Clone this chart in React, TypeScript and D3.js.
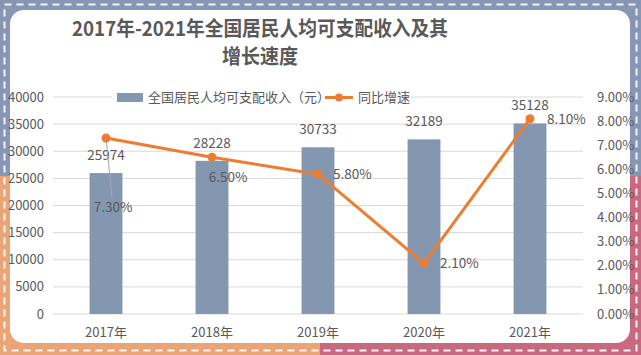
import React from "react";
import * as d3 from "d3";

const years = ["2017年", "2018年", "2019年", "2020年", "2021年"];
const income = [25974, 28228, 30733, 32189, 35128];
const growth = [7.3, 6.5, 5.8, 2.1, 8.1];
const leftTicks = [0, 5000, 10000, 15000, 20000, 25000, 30000, 35000, 40000];
const rightTicks = [0, 1, 2, 3, 4, 5, 6, 7, 8, 9];
const titleLines = ["2017年-2021年全国居民人均可支配收入及其", "增长速度"];
const legendBar = "全国居民人均可支配收入（元）";
const legendLine = "同比增速";

const W = 641;
const H = 355;
const FONT = "'Noto Sans CJK SC', 'Noto Sans', sans-serif";
const TEXT = "#595959";
const BLUE = "#8896b6";
const ORANGE = "#eaa475";
const PINK = "#c9697f";
const BAR = "#8497b0";
const LINE = "#ed7d31";

// per-label offsets for percent labels (dx, dy) relative to point
const pctOffsets: [number, number, string][] = [
  [7, 74, "middle"],
  [16, 25, "middle"],
  [15, 5, "start"],
  [16, 5, "start"],
  [17, 5, "start"],
];
const titleWidths = [376, 76];

export default function App() {
  const left = 53, right = 583, top = 97, bottom = 314;
  const x = d3.scaleBand<string>().domain(years).range([left, right]);
  const yL = d3.scaleLinear().domain([0, 40000]).range([bottom, top]);
  const yR = d3.scaleLinear().domain([0, 9]).range([bottom, top]);
  const bw = x.bandwidth() * 0.31;
  const cx = (d: string) => (x(d) as number) + x.bandwidth() / 2;
  const line = d3
    .line<number>()
    .x((_, i) => cx(years[i]))
    .y((v) => yR(v));

  const dash = "7 5";
  return (
    <svg width={W} height={H} style={{ position: "absolute", left: 0, top: 0 }} fontFamily={FONT}>
      {/* frame */}
      <rect x={0} y={0} width={320} height={176} fill={BLUE} />
      <rect x={320} y={0} width={321} height={176} fill={BLUE} />
      <rect x={0} y={176} width={320} height={179} fill={ORANGE} />
      <rect x={320} y={176} width={321} height={179} fill={PINK} />
      <rect x={4.5} y={4.5} width={W - 9} height={H - 9} fill="none" stroke="#f4f4f8" strokeWidth={2} strokeDasharray={dash} />
      <rect x={10} y={10} width={620} height={333} rx={14} ry={14} fill="#ffffff" />

      {/* title */}
      {titleLines.map((t, i) => (
        <text
          key={i}
          x={260}
          y={36 + i * 28}
          textAnchor="middle"
          fontSize={20.5}
          fontWeight="bold"
          fill={TEXT}
          textLength={titleWidths[i]}
          lengthAdjust="spacingAndGlyphs"
        >
          {t}
        </text>
      ))}

      {/* grid */}
      {leftTicks.map((t) => (
        <line key={t} x1={left} x2={right} y1={yL(t)} y2={yL(t)} stroke="#d9d9d9" strokeWidth={1} />
      ))}
      {leftTicks.map((t) => (
        <text key={"l" + t} x={44} y={yL(t) + 4.5} textAnchor="end" fontSize={13} fill={TEXT}>
          {t}
        </text>
      ))}
      {rightTicks.map((t) => (
        <text key={"r" + t} x={597} y={yR(t) + 4.5} textAnchor="start" fontSize={13} fill={TEXT}>
          {t.toFixed(2) + "%"}
        </text>
      ))}

      {/* bars */}
      {years.map((d, i) => (
        <rect key={d} x={cx(d) - bw / 2} y={yL(income[i])} width={bw} height={bottom - yL(income[i])} fill={BAR} />
      ))}
      {years.map((d) => (
        <text key={"x" + d} x={cx(d)} y={337} textAnchor="middle" fontSize={13} fill={TEXT}>
          {d}
        </text>
      ))}
      {years.map((d, i) => (
        <text key={"v" + d} x={cx(d)} y={yL(income[i]) - 13} textAnchor="middle" fontSize={13.5} fill={TEXT}>
          {income[i]}
        </text>
      ))}

      {/* leader line for first label */}
      <line x1={cx(years[0])} y1={yR(growth[0])} x2={cx(years[0]) + 6} y2={yR(growth[0]) + 60} stroke="#a6a6a6" strokeWidth={1} />

      {/* line series */}
      <path d={line(growth) || ""} fill="none" stroke={LINE} strokeWidth={3} strokeLinejoin="round" />
      {growth.map((v, i) => (
        <circle key={i} cx={cx(years[i])} cy={yR(v)} r={4.5} fill={LINE} />
      ))}
      {growth.map((v, i) => (
        <text
          key={"p" + i}
          x={cx(years[i]) + pctOffsets[i][0]}
          y={yR(v) + pctOffsets[i][1]}
          textAnchor={pctOffsets[i][2] as any}
          fontSize={13.5}
          fill={TEXT}
        >
          {v.toFixed(2) + "%"}
        </text>
      ))}

      {/* legend */}
      <rect x={112} y={88} width={298} height={18} fill="#ffffff" />
      <rect x={117} y={93} width={26} height={9} fill={BAR} />
      <text x={148} y={102} fontSize={13} fill={TEXT}>{legendBar}</text>
      <line x1={325} x2={353} y1={97.5} y2={97.5} stroke={LINE} strokeWidth={3} />
      <circle cx={339} cy={97.5} r={4} fill={LINE} />
      <text x={358} y={102} fontSize={13} fill={TEXT}>{legendLine}</text>
    </svg>
  );
}
